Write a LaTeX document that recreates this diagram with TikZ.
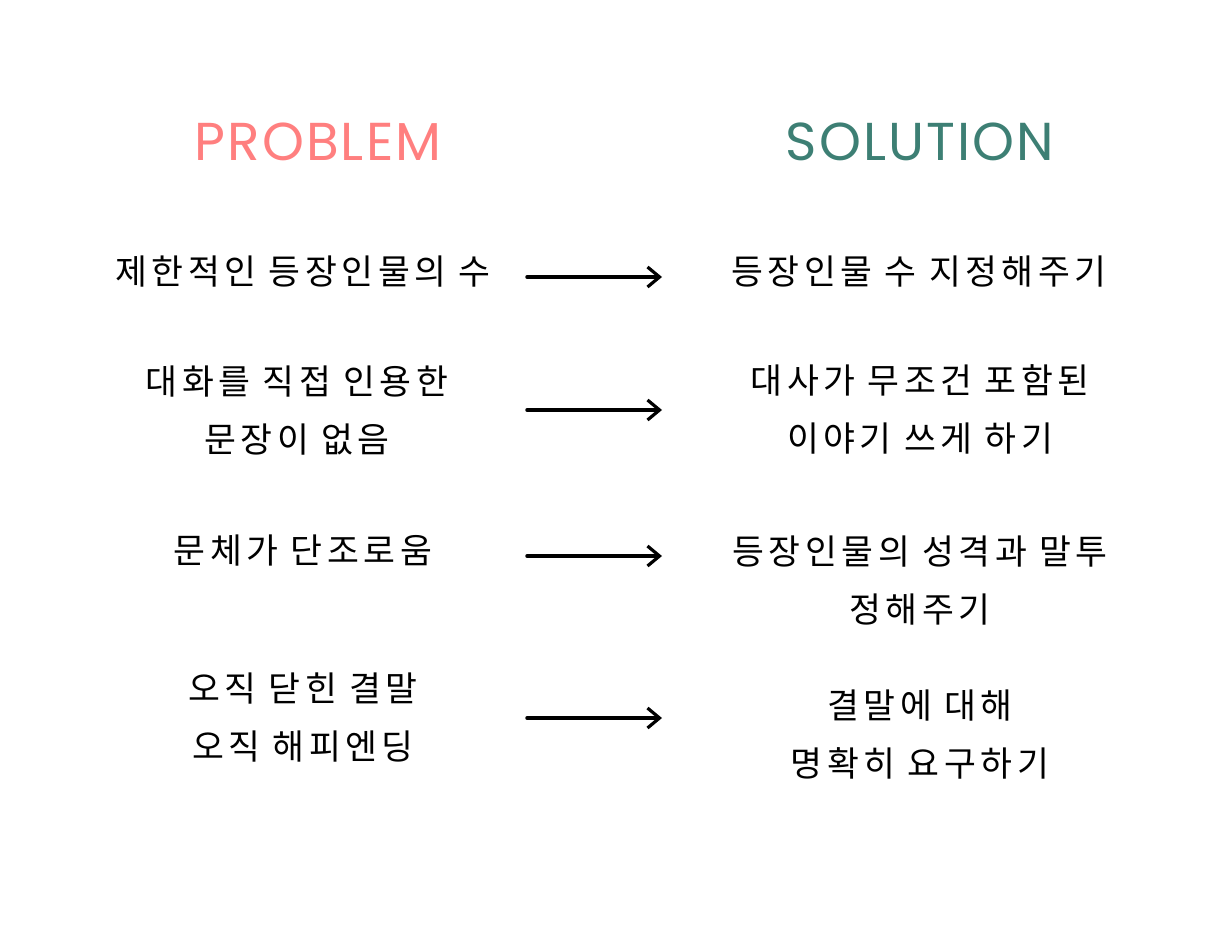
\documentclass[tikz,border=0pt]{standalone}
\usepackage{fontspec}
\setmainfont{Noto Sans CJK KR}[LetterSpace=13]
\newfontfamily\titlefont{Poppins}[LetterSpace=4]
\usepackage{xcolor}
\usetikzlibrary{arrows.meta}

\definecolor{probred}{HTML}{FF7F7F}
\definecolor{solgreen}{HTML}{3D7F74}

\begin{document}
\begin{tikzpicture}[
  x={(0.75pt,0pt)}, y={(0pt,-0.75pt)},
  line cap=round, line join=round,
  head/.style={font=\titlefont\fontsize{40}{46}\selectfont},
  txt/.style={align=center, inner sep=0pt, font=\fontsize{26}{43.5}\selectfont},
  arr/.style={line width=2.6pt, -{Straight Barb[length=9pt, width=15pt, line width=2.4pt]}}
]
  \useasboundingbox (0,0) rectangle (1225,932);

  % column heads
  \node[head, text=probred]  (prob) at (318,142) {PROBLEM};
  \node[head, text=solgreen] (sol)  at (920,142) {SOLUTION};

  % problems (left column)
  \node[txt] (p1) at (303,272) {제한적인 등장인물의 수};
  \node[txt] (p2) at (297,411) {대화를 직접 인용한\\문장이 없음};
  \node[txt] (p3) at (303,551) {문체가 단조로움};
  \node[txt] (p4) at (303,717) {오직 닫힌 결말\\오직 해피엔딩};

  % solutions (right column)
  \node[txt] (s1) at (919,272) {등장인물 수 지정해주기};
  \node[txt] (s2) at (920,409) {대사가 무조건 포함된\\이야기 쓰게 하기};
  \node[txt] (s3) at (920,581) {등장인물의 성격과 말투\\정해주기};
  \node[txt] (s4) at (920,735) {결말에 대해\\명확히 요구하기};

  % arrows between the columns
  \foreach \i/\y in {1/277, 2/410, 3/556, 4/718} {
    \coordinate (a\i) at (527,\y);
    \coordinate (b\i) at (662,\y);
    \draw[arr] (a\i) -- (b\i);
  }
\end{tikzpicture}
\end{document}
